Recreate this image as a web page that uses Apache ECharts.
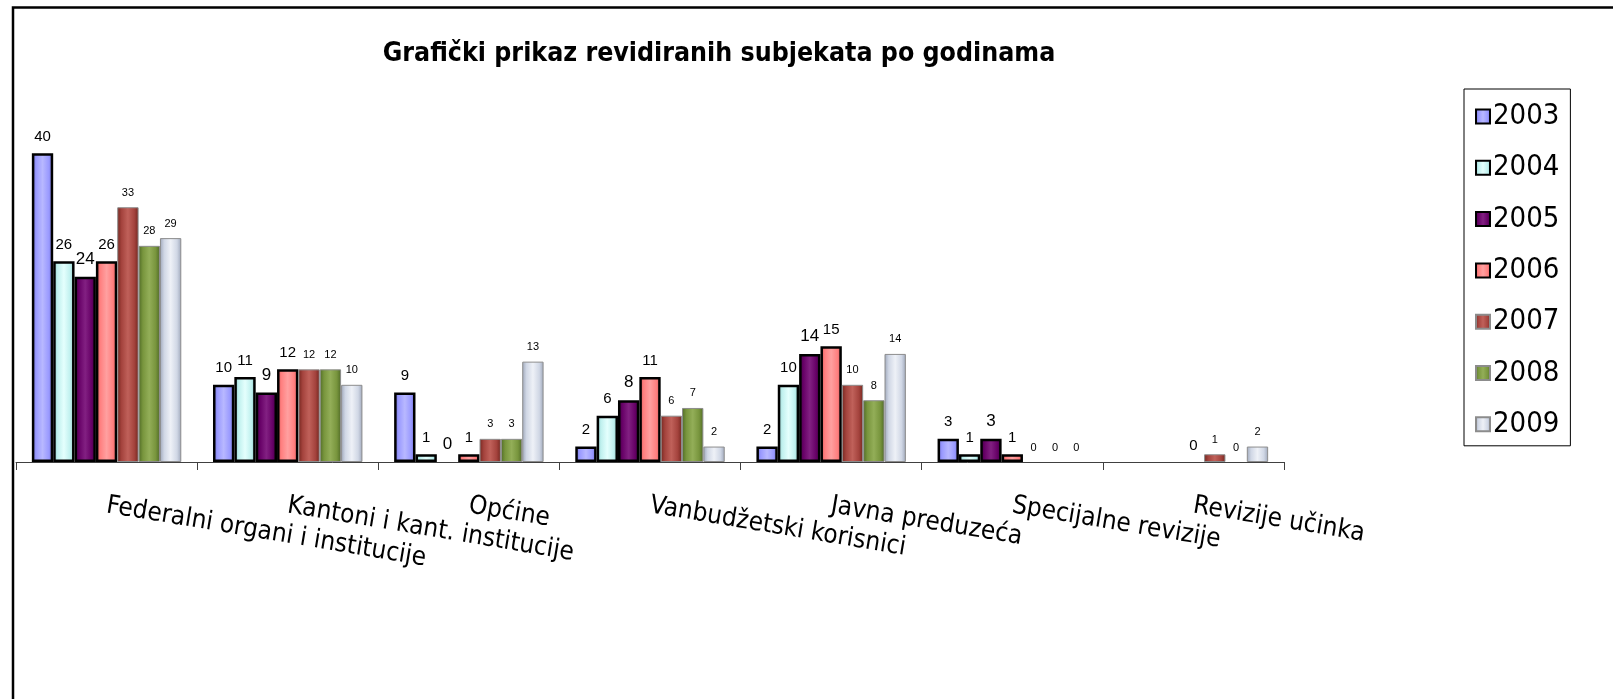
<!DOCTYPE html>
<html>
<head>
<meta charset="utf-8">
<script src="https://cdn.jsdelivr.net/npm/echarts@6/dist/echarts.min.js"></script>
<style>
html,body{margin:0;padding:0;background:#fff;}
#chart{width:1613px;height:699px;}
</style>
</head>
<body>
<div id="chart"></div>
<script>
const categories = ['Federalni organi i institucije', 'Kantoni i kant. institucije', 'Općine', 'Vanbudžetski korisnici', 'Javna preduzeća', 'Specijalne revizije', 'Revizije učinka'];
const years = ['2003', '2004', '2005', '2006', '2007', '2008', '2009'];
const v2003 = [40, 10, 9, 2, 2, 3, null];
const v2004 = [26, 11, 1, 6, 10, 1, null];
const v2005 = [24, 9, 0, 8, 14, 3, null];
const v2006 = [26, 12, 1, 11, 15, 1, 0];
const v2007 = [33, 12, 3, 6, 10, 0, 1];
const v2008 = [28, 12, 3, 7, 8, 0, 0];
const v2009 = [29, 10, 13, 2, 14, 0, 2];
const seriesValues = [v2003, v2004, v2005, v2006, v2007, v2008, v2009];

const baseColors = ['#9999FF', '#BFF0EE', '#660066', '#FF7F7F', '#A4433D', '#78953D', '#D0D7E5'];
const edgeColors = ['#6A6ACC', '#86C2BF', '#3A003A', '#D05555', '#74261F', '#4F6A26', '#9EA7BA'];
const lightColors = ['#B8B8FF', '#E4FFFD', '#822082', '#FFA0A0', '#C0615A', '#93AE58', '#EEF1F7'];
const strongBorder = [true, true, true, true, false, false, false];
const labelSizes = [15, 15, 17, 15, 11, 11, 11];

function grad(i) {
  return new echarts.graphic.LinearGradient(0, 0, 1, 0, [
    {offset: 0, color: edgeColors[i]},
    {offset: 0.2, color: baseColors[i]},
    {offset: 0.5, color: lightColors[i]},
    {offset: 0.8, color: baseColors[i]},
    {offset: 1, color: edgeColors[i]}
  ]);
}

const series = years.map((y, i) => ({
  name: y,
  type: 'bar',
  barGap: '0%',
  barCategoryGap: '17.5%',
  data: seriesValues[i].map(v => (v === 0 ? {value: 0, itemStyle: {borderWidth: 0}} : v)),
  itemStyle: {
    color: grad(i),
    borderColor: strongBorder[i] ? '#000000' : '#8C8C8C',
    borderWidth: strongBorder[i] ? 2.5 : 1
  },
  label: {
    show: true,
    position: 'top',
    distance: 9,
    color: '#000',
    fontFamily: 'Liberation Sans, Arial, sans-serif',
    fontSize: labelSizes[i]
  }
}));

const chart = echarts.init(document.getElementById('chart'), null, {renderer: 'canvas'});
chart.setOption({
  animation: false,
  backgroundColor: '#ffffff',
  title: {
    text: 'Grafički prikaz revidiranih subjekata po godinama',
    left: 714,
    top: 36,
    textAlign: 'center',
    textStyle: {
      fontFamily: 'DejaVu Sans Condensed',
      fontWeight: 'bold',
      fontSize: 26.5,
      color: '#000'
    }
  },
  legend: {
    orient: 'vertical',
    left: 1464,
    top: 89,
    padding: [13, 11, 7, 11],
    itemWidth: 14,
    itemHeight: 14,
    itemGap: 22.3,
    icon: 'rect',
    borderColor: '#000',
    borderWidth: 1,
    textStyle: {
      fontFamily: 'DejaVu Sans Condensed',
      fontSize: 29,
      color: '#000',
      padding: [0, 0, 0, -2]
    },
    data: years
  },
  grid: {
    left: 16,
    right: 329,
    top: 114.6,
    bottom: 237,
    containLabel: false
  },
  xAxis: {
    type: 'category',
    data: categories,
    axisLine: {lineStyle: {color: '#404040', width: 1}},
    axisTick: {show: true, length: 8, lineStyle: {color: '#404040'}},
    axisLabel: {
      rotate: -9.5,
      margin: 43.5,
      interval: 0,
      fontFamily: 'DejaVu Sans Condensed',
      fontSize: 26,
      color: '#000'
    }
  },
  yAxis: {
    type: 'value',
    min: 0,
    max: 45,
    show: false,
    splitLine: {show: false}
  },
  graphic: [{
    type: 'polyline',
    shape: {points: [[13, 699], [13, 7.5], [1613, 7.5]]},
    style: {stroke: '#000', lineWidth: 2.5, fill: null},
    silent: true
  }],
  series: series
});
</script>
</body>
</html>
